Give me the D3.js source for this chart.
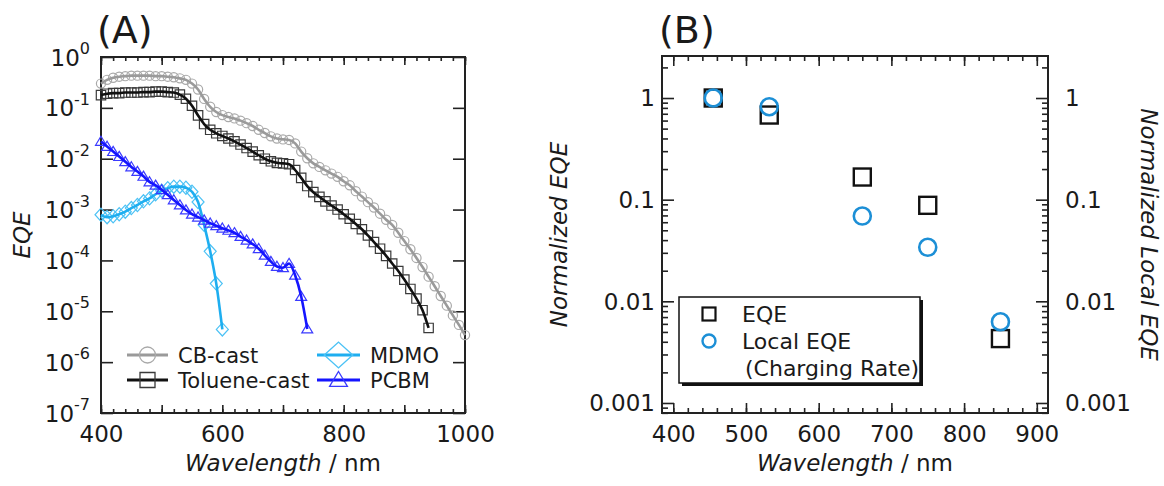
<!DOCTYPE html>
<html>
<head>
<meta charset="utf-8">
<script src="https://cdn.jsdelivr.net/npm/d3@7"></script>
<style>
  html, body { margin: 0; padding: 0; background: #fff; }
  svg { display: block; }
  text { font-family: "DejaVu Sans", "Liberation Sans", sans-serif; fill: #1a1a1a; }
</style>
</head>
<body>
<svg id="chart" width="1164" height="486"></svg>
<script>
// ---------------- Panel A data ----------------
const wavelengthA = [400,410,420,430,440,450,460,470,480,490,
                     500,510,520,530,540,550,560,570,580,590,
                     600,610,620,630,640,650,660,670,680,690,
                     700,710,720,730,740,750,760,770,780,790,
                     800,810,820,830,840,850,860,870,880,890,
                     900,910,920,930,940,950,960,970,980,990,1000];
const cbCast = [0.30,0.355,0.39,0.41,0.42,0.43,0.43,0.43,0.43,0.42,
                0.42,0.41,0.40,0.38,0.355,0.30,0.23,0.15,0.105,0.083,
                0.072,0.066,0.062,0.056,0.050,0.044,0.037,0.032,0.0275,0.025,
                0.024,0.0234,0.020,0.0138,0.0102,0.0081,0.0069,0.0059,0.0051,0.0044,
                0.0036,0.0030,0.0023,0.0018,0.0014,0.0011,8.3e-4,6.3e-4,5.0e-4,3.5e-4,
                2.4e-4,1.66e-4,1.12e-4,7.4e-5,4.8e-5,3.1e-5,2.0e-5,1.29e-5,8.3e-6,5.4e-6,3.4e-6];
const tolueneCast = [0.178,0.19,0.195,0.195,0.20,0.20,0.20,0.204,0.204,0.209,
                     0.209,0.204,0.20,0.182,0.151,0.110,0.071,0.048,0.037,0.0316,
                     0.028,0.025,0.022,0.019,0.0162,0.0138,0.0117,0.0100,0.0089,0.0083,
                     0.0081,0.0078,0.0060,0.0042,0.0029,0.0022,0.00178,0.00145,0.0012,0.0010,
                     8.1e-4,6.6e-4,5.2e-4,4.1e-4,3.1e-4,2.3e-4,1.7e-4,1.23e-4,8.7e-5,6.2e-5,
                     4.2e-5,2.75e-5,1.78e-5,1.05e-5,4.7e-6];
const mdmo = [7.9e-4,7.1e-4,7.4e-4,8.1e-4,9.1e-4,1.07e-3,1.23e-3,1.45e-3,1.66e-3,2.0e-3,
              2.34e-3,2.63e-3,2.82e-3,2.82e-3,2.69e-3,2.24e-3,1.41e-3,5.0e-4,1.51e-4,3.5e-5,4.4e-6];
const pcbm = [0.0219,0.0174,0.0138,0.0110,0.0087,0.0069,0.0056,0.0045,0.0035,0.0030,
              0.00245,0.00195,0.00155,0.00123,9.8e-4,8.1e-4,7.1e-4,6.2e-4,5.4e-4,4.8e-4,
              4.3e-4,3.9e-4,3.5e-4,2.95e-4,2.5e-4,2.1e-4,1.7e-4,1.26e-4,9.5e-5,7.6e-5,
              7.2e-5,8.7e-5,5.1e-5,1.95e-5,4.5e-6];
const seriesNamesA = ["CB-cast", "Toluene-cast", "MDMO", "PCBM"];
const xTickLabelsA = [400, 600, 800, 1000];
const yTickExponentsA = [0, -1, -2, -3, -4, -5, -6, -7];

// ---------------- Panel B data ----------------
const wavelengthB = [455, 532, 660, 750, 850];
const eqeNorm = [1.0, 0.68, 0.167, 0.088, 0.0043];
const localEqeNorm = [1.0, 0.82, 0.069, 0.034, 0.0063];
const xTickLabelsB = [400, 500, 600, 700, 800, 900];
const yTickValuesB = [1, 0.1, 0.01, 0.001];
const yTickLabelsB = ["1", "0.1", "0.01", "0.001"];

const svg = d3.select("#chart");
const FONT = 23;

// ================= PANEL A =================
const A = {left: 101, right: 465, top: 57, bottom: 413};
const xA = d3.scaleLinear().domain([400, 1000]).range([A.left, A.right]);
const yA = d3.scaleLog().domain([1e-7, 1]).range([A.bottom, A.top]);

const gA = svg.append("g");

function inTicks(g, axisFn, scale, values, size, translate) {
  const ax = axisFn(scale).tickValues(values).tickSize(-size).tickFormat("");
  const el = g.append("g").attr("transform", translate).call(ax);
  el.select(".domain").remove();
  el.selectAll("line").attr("stroke", "#222").attr("stroke-width", 1.6);
  return el;
}

// x ticks A
const minorXA = d3.range(400, 1001, 20);
const majorXA = d3.range(400, 1001, 100);
inTicks(gA, d3.axisBottom, xA, minorXA, 4, `translate(0,${A.bottom})`);
inTicks(gA, d3.axisBottom, xA, majorXA, 8, `translate(0,${A.bottom})`);
inTicks(gA, d3.axisTop, xA, minorXA, 4, `translate(0,${A.top})`);
inTicks(gA, d3.axisTop, xA, majorXA, 8, `translate(0,${A.top})`);
const yTickValsA = yTickExponentsA.map(e => Math.pow(10, e));
inTicks(gA, d3.axisLeft, yA, yTickValsA, 12, `translate(${A.left},0)`);
inTicks(gA, d3.axisRight, yA, yTickValsA, 12, `translate(${A.right},0)`);

// x labels A
const xlabA = gA.append("g").attr("transform", `translate(0,${A.bottom})`)
  .call(d3.axisBottom(xA).tickValues(xTickLabelsA).tickSize(0).tickPadding(13).tickFormat(d3.format("d")));
xlabA.select(".domain").remove();
xlabA.selectAll("text").attr("font-size", FONT).attr("font-family", "DejaVu Sans").attr("fill", "#1a1a1a");

// y labels A (10^n)
yTickExponentsA.forEach(e => {
  const t = gA.append("text")
    .attr("x", 90).attr("y", yA(Math.pow(10, e)) + 8.5)
    .attr("text-anchor", "end").attr("font-size", FONT);
  t.append("tspan").text("10");
  t.append("tspan").attr("dy", -11.5).attr("font-size", 16).text(String(e));
});

// frame A
gA.append("rect").attr("x", A.left).attr("y", A.top)
  .attr("width", A.right - A.left).attr("height", A.bottom - A.top)
  .attr("fill", "none").attr("stroke", "#222").attr("stroke-width", 2);

// series A
const stylesA = [
  {name: "CB-cast", data: cbCast, line: "#9a9a9a", mark: "#a9a9a9", shape: "circle"},
  {name: "Toluene-cast", data: tolueneCast, line: "#111111", mark: "#3a3a3a", shape: "square"},
  {name: "MDMO", data: mdmo, line: "#1eaef0", mark: "#4cc2f5", shape: "diamond"},
  {name: "PCBM", data: pcbm, line: "#1515ff", mark: "#3a3aff", shape: "triangle"}
];

function markerPath(shape, s) {
  // s = half size
  switch (shape) {
    case "circle": return d3.symbol(d3.symbolCircle, Math.PI * s * s)();
    case "square": return `M${-s},${-s}H${s}V${s}H${-s}Z`;
    case "diamond": return `M0,${-s * 1.1}L${s},0L0,${s * 1.1}L${-s},0Z`;
    case "triangle": return `M0,${-s}L${s * 1.05},${s * 0.75}L${-s * 1.05},${s * 0.75}Z`;
  }
}
const halfA = {circle: 4.6, square: 4.7, diamond: 6, triangle: 5.2};

const plotA = gA.append("g");
stylesA.forEach(st => {
  const pts = st.data.map((v, i) => [wavelengthA[i], v]);
  const g = plotA.append("g");
  const mk = g.append("g");
  pts.forEach(p => {
    mk.append("path").attr("d", markerPath(st.shape, halfA[st.shape]))
      .attr("transform", `translate(${xA(p[0])},${yA(p[1])})`)
      .attr("fill", "none").attr("stroke", st.mark).attr("stroke-width", 1.2);
  });
  g.append("path").datum(pts)
    .attr("d", d3.line().x(d => xA(d[0])).y(d => yA(d[1])).curve(d3.curveMonotoneX))
    .attr("fill", "none").attr("stroke", st.line).attr("stroke-width", 2.6);
});

// legend A
const legA = [
  {st: stylesA[0], x0: 127, x1: 168, y: 355, tx: 178, half: 8},
  {st: stylesA[1], x0: 127, x1: 168, y: 380, tx: 178, half: 7.5},
  {st: stylesA[2], x0: 317, x1: 360, y: 355, tx: 370, half: 13},
  {st: stylesA[3], x0: 317, x1: 360, y: 380, tx: 370, half: 8.5}
];
legA.forEach(l => {
  const g = gA.append("g");
  g.append("line").attr("x1", l.x0).attr("x2", l.x1).attr("y1", l.y).attr("y2", l.y)
    .attr("stroke", l.st.line).attr("stroke-width", 3);
  const cx = (l.x0 + l.x1) / 2;
  g.append("path").attr("d", markerPath(l.st.shape, l.half))
    .attr("transform", `translate(${cx},${l.y})` + (l.st.shape === "diamond" ? " scale(1.1,0.9)" : ""))
    .attr("fill", "none").attr("stroke", l.st.mark).attr("stroke-width", 1.3);
  g.append("text").attr("x", l.tx).attr("y", l.y).attr("dy", "0.36em")
    .attr("font-size", 21).text(l.st.name);
});

// titles A
gA.append("text").attr("x", 97).attr("y", 43).attr("font-size", 38).text("(A)");
gA.append("text").attr("transform", `translate(22,${(A.top + A.bottom) / 2}) rotate(-90)`)
  .attr("dy", "0.35em").attr("text-anchor", "middle").attr("font-size", FONT)
  .attr("font-style", "italic").text("EQE");
const xtA = gA.append("text").attr("x", (A.left + A.right) / 2).attr("y", 471)
  .attr("text-anchor", "middle").attr("font-size", FONT);
xtA.append("tspan").attr("font-style", "italic").text("Wavelength");
xtA.append("tspan").text(" / nm");

// ================= PANEL B =================
const B = {left: 662, right: 1048, top: 56, bottom: 413};
const xB = d3.scaleLinear().domain([384.5, 915.4]).range([B.left, B.right]);
const yB = d3.scaleLog().domain([7.97e-4, 2.59]).range([B.bottom, B.top]);
const gB = svg.append("g");

const minorXB = d3.range(400, 901, 20);
const majorXB = d3.range(400, 901, 100);
inTicks(gB, d3.axisBottom, xB, minorXB, 5, `translate(0,${B.bottom})`);
inTicks(gB, d3.axisBottom, xB, majorXB, 10, `translate(0,${B.bottom})`);
inTicks(gB, d3.axisTop, xB, minorXB, 5, `translate(0,${B.top})`);
inTicks(gB, d3.axisTop, xB, majorXB, 10, `translate(0,${B.top})`);
const minorYB = [];
[0.0001, 0.001, 0.01, 0.1, 1].forEach(dec => {
  for (let k = 2; k <= 9; k++) { const v = dec * k; if (v > 7.97e-4 && v < 2.59) minorYB.push(v); }
});
inTicks(gB, d3.axisLeft, yB, minorYB, 6, `translate(${B.left},0)`);
inTicks(gB, d3.axisLeft, yB, yTickValuesB, 12, `translate(${B.left},0)`);
inTicks(gB, d3.axisRight, yB, minorYB, 6, `translate(${B.right},0)`);
inTicks(gB, d3.axisRight, yB, yTickValuesB, 12, `translate(${B.right},0)`);

const xlabB = gB.append("g").attr("transform", `translate(0,${B.bottom})`)
  .call(d3.axisBottom(xB).tickValues(xTickLabelsB).tickSize(0).tickPadding(13).tickFormat(d3.format("d")));
xlabB.select(".domain").remove();
xlabB.selectAll("text").attr("font-size", FONT).attr("font-family", "DejaVu Sans").attr("fill", "#1a1a1a");

yTickValuesB.forEach((v, i) => {
  gB.append("text").attr("x", 655).attr("y", yB(v)).attr("dy", "0.36em")
    .attr("text-anchor", "end").attr("font-size", FONT).text(yTickLabelsB[i]);
  gB.append("text").attr("x", 1065).attr("y", yB(v)).attr("dy", "0.36em")
    .attr("text-anchor", "start").attr("font-size", FONT).text(yTickLabelsB[i]);
});

gB.append("rect").attr("x", B.left).attr("y", B.top)
  .attr("width", B.right - B.left).attr("height", B.bottom - B.top)
  .attr("fill", "none").attr("stroke", "#222").attr("stroke-width", 2);

const BLUE_B = "#1c8fd6";
// squares
gB.append("g").selectAll("rect").data(wavelengthB.map((w, i) => [w, eqeNorm[i]])).join("rect")
  .attr("x", d => xB(d[0]) - 8.5).attr("y", d => yB(d[1]) - 8.5)
  .attr("width", 17).attr("height", 17)
  .attr("fill", "none").attr("stroke", "#111").attr("stroke-width", 2.4);
// circles
gB.append("g").selectAll("circle").data(wavelengthB.map((w, i) => [w, localEqeNorm[i]])).join("circle")
  .attr("cx", d => xB(d[0])).attr("cy", d => yB(d[1])).attr("r", 8.5)
  .attr("fill", "none").attr("stroke", BLUE_B).attr("stroke-width", 2.6);

// legend B
gB.append("rect").attr("x", 682).attr("y", 300).attr("width", 241).attr("height", 86).attr("fill", "#111");
gB.append("rect").attr("x", 679).attr("y", 297).attr("width", 241).attr("height", 86)
  .attr("fill", "#fff").attr("stroke", "#111").attr("stroke-width", 1.5);
gB.append("rect").attr("x", 709 - 6.5).attr("y", 314 - 6.5).attr("width", 13).attr("height", 13)
  .attr("fill", "none").attr("stroke", "#111").attr("stroke-width", 2.2);
gB.append("circle").attr("cx", 709).attr("cy", 341).attr("r", 6.5)
  .attr("fill", "none").attr("stroke", BLUE_B).attr("stroke-width", 2.4);
gB.append("text").attr("x", 742).attr("y", 314).attr("dy", "0.36em").attr("font-size", 22).text("EQE");
gB.append("text").attr("x", 742).attr("y", 341).attr("dy", "0.36em").attr("font-size", 22).text("Local EQE");
gB.append("text").attr("x", 745).attr("y", 368).attr("dy", "0.36em").attr("font-size", 22).text("(Charging Rate)");

// titles B
gB.append("text").attr("x", 659).attr("y", 43).attr("font-size", 38).text("(B)");
gB.append("text").attr("transform", `translate(559,${(B.top + B.bottom) / 2}) rotate(-90)`)
  .attr("dy", "0.35em").attr("text-anchor", "middle").attr("font-size", FONT)
  .attr("font-style", "italic").text("Normalized EQE");
gB.append("text").attr("transform", `translate(1149,${(B.top + B.bottom) / 2}) rotate(90)`)
  .attr("dy", "0.35em").attr("text-anchor", "middle").attr("font-size", FONT)
  .attr("font-style", "italic").text("Normalized Local EQE");
const xtB = gB.append("text").attr("x", (B.left + B.right) / 2).attr("y", 471)
  .attr("text-anchor", "middle").attr("font-size", FONT);
xtB.append("tspan").attr("font-style", "italic").text("Wavelength");
xtB.append("tspan").text(" / nm");
</script>
</body>
</html>
